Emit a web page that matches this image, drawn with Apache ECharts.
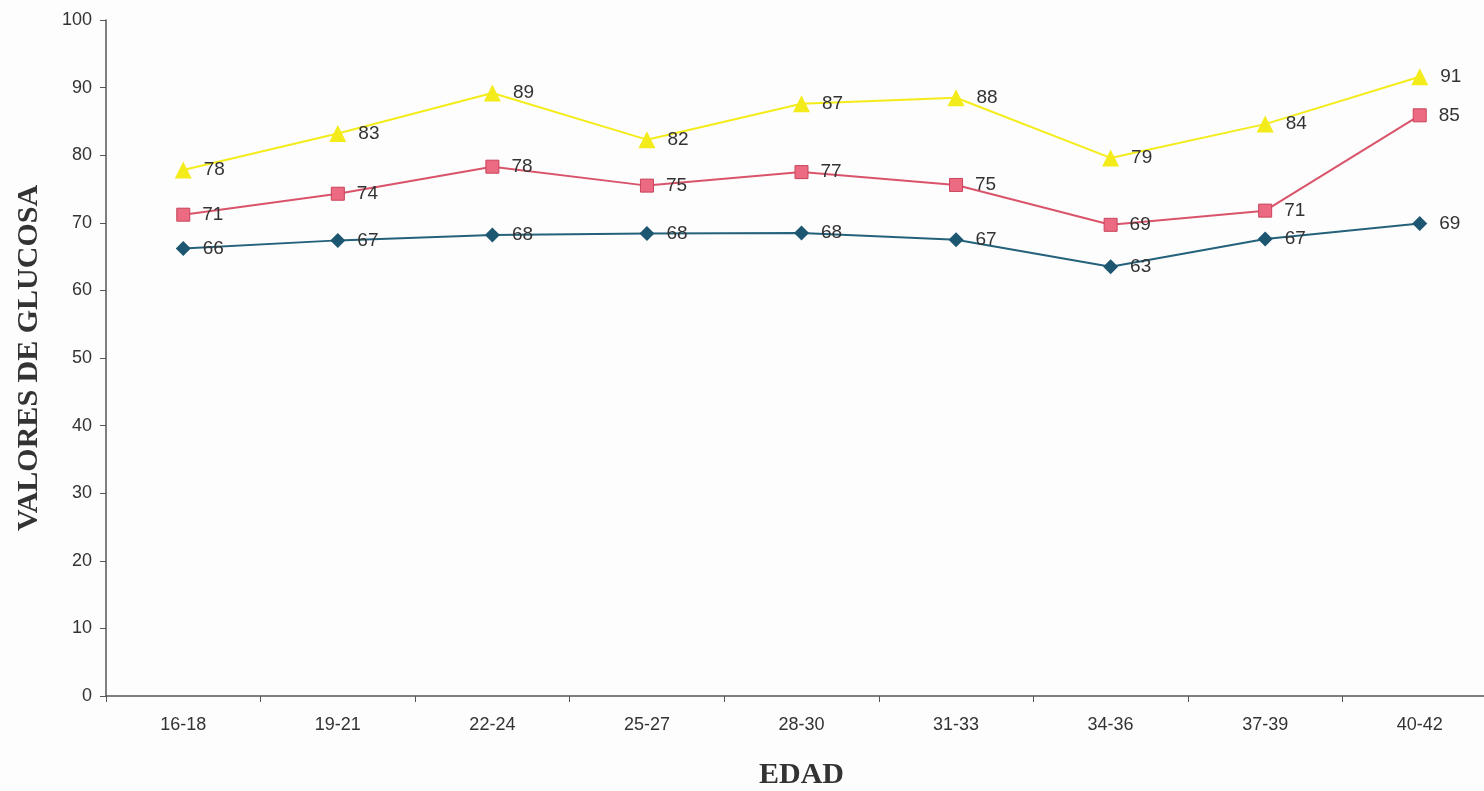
<!DOCTYPE html>
<html>
<head>
<meta charset="utf-8">
<script src="https://cdn.jsdelivr.net/npm/echarts@6/dist/echarts.min.js"></script>
<style>
  html, body { margin: 0; padding: 0; background: #fdfdfd; }
  #chart { width: 1484px; height: 791px; }
</style>
</head>
<body>
<div id="chart"></div>
<script>
// age groups
const edades = ["16-18", "19-21", "22-24", "25-27", "28-30", "31-33", "34-36", "37-39", "40-42"];
const yTicks = [0, 10, 20, 30, 40, 50, 60, 70, 80, 90, 100];

// plotted positions
const serieAlta = [77.8, 83.2, 89.2, 82.3, 87.6, 88.5, 79.6, 84.6, 91.6];
const serieMedia = [71.2, 74.3, 78.3, 75.5, 77.5, 75.6, 69.7, 71.8, 85.9];
const serieBaja = [66.2, 67.4, 68.2, 68.4, 68.5, 67.5, 63.5, 67.6, 69.9];

// printed labels
const etiquetasAlta = [78, 83, 89, 82, 87, 88, 79, 84, 91];
const etiquetasMedia = [71, 74, 78, 75, 77, 75, 69, 71, 85];
const etiquetasBaja = [66, 67, 68, 68, 68, 67, 63, 67, 69];

const chart = echarts.init(document.getElementById("chart"));

function labelOf(arr) {
  return {
    show: true,
    position: "right",
    distance: 12,
    color: "#333",
    fontFamily: "Arial, Liberation Sans, sans-serif",
    fontSize: 19,
    formatter: (p) => String(arr[p.dataIndex])
  };
}

const options = {
  backgroundColor: "#fdfdfd",
  animation: false,
  grid: { left: 106, top: 20, width: 1391, bottom: 95, outerBoundsMode: "none", containLabel: false },
  xAxis: {
    type: "category",
    data: edades,
    boundaryGap: true,
    axisLine: { lineStyle: { color: "#555", width: 1.5 } },
    axisTick: { show: true, length: 6, lineStyle: { color: "#555" } },
    axisLabel: {
      color: "#333",
      fontFamily: "Arial, Liberation Sans, sans-serif",
      fontSize: 18,
      margin: 20
    },
    name: "EDAD",
    nameLocation: "middle",
    nameGap: 64,
    nameTextStyle: {
      fontFamily: "Liberation Serif, Times New Roman, serif",
      fontWeight: "bold",
      fontSize: 30,
      color: "#333"
    }
  },
  yAxis: {
    type: "value",
    min: 0,
    max: 100,
    interval: 10,
    splitLine: { show: false },
    axisLine: { show: true, lineStyle: { color: "#555", width: 1.5 } },
    axisTick: { show: true, length: 6, lineStyle: { color: "#555" } },
    axisLabel: {
      color: "#333",
      fontFamily: "Arial, Liberation Sans, sans-serif",
      fontSize: 18,
      margin: 14,
      formatter: (v) => (yTicks.includes(v) ? String(v) : "")
    },
    name: "VALORES DE GLUCOSA",
    nameLocation: "middle",
    nameGap: 62,
    nameRotate: 90,
    nameTextStyle: {
      fontFamily: "Liberation Serif, Times New Roman, serif",
      fontWeight: "bold",
      fontSize: 30,
      color: "#333"
    }
  },
  series: [
    {
      type: "line",
      data: serieAlta,
      symbol: "triangle",
      symbolSize: 17,
      lineStyle: { color: "#f4ec1a", width: 2 },
      itemStyle: { color: "#f4ec1a" },
      label: labelOf(etiquetasAlta)
    },
    {
      type: "line",
      data: serieMedia,
      symbol: "rect",
      symbolSize: 13,
      lineStyle: { color: "#d9546a", width: 2 },
      itemStyle: { color: "#ec6a82", borderColor: "#c8445a", borderWidth: 1 },
      label: labelOf(etiquetasMedia)
    },
    {
      type: "line",
      data: serieBaja,
      symbol: "diamond",
      symbolSize: 15,
      lineStyle: { color: "#24617a", width: 2 },
      itemStyle: { color: "#1d5670" },
      label: labelOf(etiquetasBaja)
    }
  ]
};

chart.setOption(options);
</script>
</body>
</html>
